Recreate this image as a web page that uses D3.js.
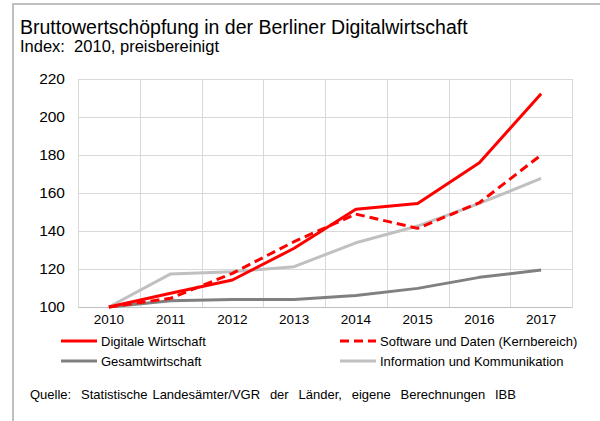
<!DOCTYPE html>
<html lang="de">
<head>
<meta charset="utf-8">
<title>Bruttowertschöpfung Berliner Digitalwirtschaft</title>
<script src="https://cdn.jsdelivr.net/npm/d3@7/dist/d3.min.js"></script>
<style>
  body { margin: 0; background: #fff; }
  svg text { font-family: Arial, "Liberation Sans", sans-serif; fill: #000; white-space: pre; }
</style>
</head>
<body>
<div id="chart"></div>
<script>
// Daten (Index 2010 = 100)
var years = ["2010", "2011", "2012", "2013", "2014", "2015", "2016", "2017"];
var digitaleWirtschaft = [100, 107.2, 114.2, 130.9, 151.4, 154.5, 175.9, 212.2];
var softwareDaten = [100, 104.6, 117.7, 134.4, 148.9, 141.4, 154.9, 180.0];
var gesamtwirtschaft = [100, 103.3, 104.0, 104.0, 106.1, 109.8, 115.6, 119.5];
var infoKomm = [100, 117.4, 118.6, 121.2, 133.8, 142.6, 154.5, 167.7];
var yTicks = [100, 120, 140, 160, 180, 200, 220];

var series = [
  { name: "Gesamtwirtschaft", values: gesamtwirtschaft, color: "#808080", dash: null },
  { name: "Information und Kommunikation", values: infoKomm, color: "#c0c0c0", dash: null },
  { name: "Software und Daten (Kernbereich)", values: softwareDaten, color: "#ff0000", dash: "9,5" },
  { name: "Digitale Wirtschaft", values: digitaleWirtschaft, color: "#ff0000", dash: null }
];

var W = 600, H = 421;
var margin = { top: 79, right: 28, bottom: 114, left: 78 };
var width = W - margin.left - margin.right,
    height = H - margin.top - margin.bottom;

var svg = d3.select("#chart").append("svg")
  .attr("width", W)
  .attr("height", H);

// Rahmen (nur oben und links sichtbar)
svg.append("path")
  .attr("d", "M13," + H + "V4H" + W)
  .attr("fill", "none")
  .attr("stroke", "#bfbfbf")
  .attr("stroke-width", 2);

// Titel
svg.append("text")
  .attr("x", 20).attr("y", 34)
  .attr("font-size", 19.5)
  .text("Bruttowertschöpfung in der Berliner Digitalwirtschaft");
svg.append("text")
  .attr("x", 20).attr("y", 52)
  .attr("font-size", 16.5)
  .text("Index:  2010, preisbereinigt");

var g = svg.append("g")
  .attr("transform", "translate(" + margin.left + "," + margin.top + ")");

var x = d3.scaleBand().domain(years).range([0, width]);
var y = d3.scaleLinear().domain([100, 220]).range([height, 0]);

// Gitternetz
g.selectAll(".hgrid").data(yTicks).enter().append("line")
  .attr("x1", 0).attr("x2", width)
  .attr("y1", function(d) { return Math.round(y(d)) + 0.5; })
  .attr("y2", function(d) { return Math.round(y(d)) + 0.5; })
  .attr("stroke", "#d9d9d9");
g.selectAll(".vgrid").data(years.concat(["end"])).enter().append("line")
  .attr("x1", function(d, i) { return Math.round(i * x.step()) + 0.5; })
  .attr("x2", function(d, i) { return Math.round(i * x.step()) + 0.5; })
  .attr("y1", 0).attr("y2", height)
  .attr("stroke", "#d9d9d9");

// Achsen
var yAxis = d3.axisLeft(y).tickValues(yTicks).tickSize(0).tickPadding(13);
g.append("g").call(yAxis)
  .call(function(a) { a.select(".domain").remove(); })
  .selectAll("text")
  .attr("font-size", 15.5)
  .style("font-family", "Arial, 'Liberation Sans', sans-serif");

var xAxis = d3.axisBottom(x).tickSize(0).tickPadding(7);
g.append("g")
  .attr("transform", "translate(0," + height + ")")
  .call(xAxis)
  .call(function(a) { a.select(".domain").attr("stroke", "#bfbfbf"); })
  .selectAll("text")
  .attr("font-size", 13.5)
  .style("font-family", "Arial, 'Liberation Sans', sans-serif");

// Linien
var line = d3.line()
  .x(function(d, i) { return x(years[i]) + x.bandwidth() / 2; })
  .y(function(d) { return y(d); });

g.selectAll(".series").data(series).enter().append("path")
  .attr("d", function(s) { return line(s.values); })
  .attr("fill", "none")
  .attr("stroke", function(s) { return s.color; })
  .attr("stroke-width", 3)
  .attr("stroke-dasharray", function(s) { return s.dash; })
  .attr("stroke-linejoin", "round");

// Legende
var legendItems = [
  { s: series[3], x: 61, y: 341 },
  { s: series[2], x: 340, y: 341 },
  { s: series[0], x: 61, y: 361 },
  { s: series[1], x: 340, y: 361 }
];
var leg = svg.selectAll(".legend").data(legendItems).enter().append("g")
  .attr("transform", function(d) { return "translate(" + d.x + "," + d.y + ")"; });
leg.append("line")
  .attr("x1", 0).attr("x2", 36)
  .attr("stroke", function(d) { return d.s.color; })
  .attr("stroke-width", 3)
  .attr("stroke-dasharray", function(d) { return d.s.dash; });
leg.append("text")
  .attr("x", 40).attr("y", 4.5)
  .attr("font-size", 13)
  .text(function(d) { return d.s.name; });

// Quelle
svg.append("text")
  .attr("x", 30).attr("y", 399)
  .attr("font-size", 13)
  .attr("word-spacing", 1.3)
  .text("Quelle:  Statistische Landesämter/VGR  der  Länder,  eigene  Berechnungen  IBB");
</script>
</body>
</html>
